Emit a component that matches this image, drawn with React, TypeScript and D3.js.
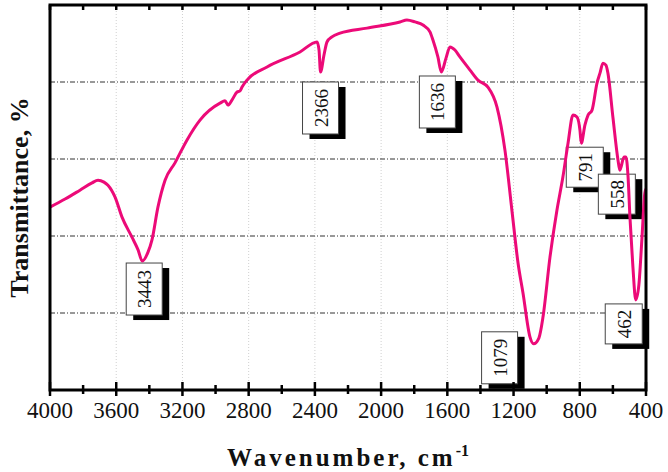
import React from 'react';
import * as d3 from 'd3';

// ---- data ----
const wavenumbers = [
  4000, 3909, 3819, 3746, 3710, 3674, 3650, 3607, 3565, 3505, 3468, 3443, 3408, 3384, 3348, 3305,
  3245, 3173, 3094, 2973, 2943, 2925, 2901, 2870, 2852, 2840, 2810, 2689, 2490, 2387, 2375, 2366,
  2345, 2327, 2297, 2248, 2085, 1886, 1844, 1795, 1747, 1705, 1687, 1657, 1636, 1608, 1584, 1554,
  1524, 1463, 1415, 1355, 1300, 1252, 1210, 1173, 1143, 1101, 1079, 1047, 1022, 980, 938, 902,
  871, 841, 817, 799, 791, 769, 750, 726, 696, 678, 660, 642, 630, 600, 569, 558,
  533, 521, 509, 497, 479, 462, 443, 425, 407, 400,
];
const transmittance = [
  47.5, 49.6, 51.9, 53.8, 54.5, 54.0, 53.2, 50.1, 44.9, 39.7, 36.4, 33.5, 35.8, 39.0, 47.5, 54.5,
  59.0, 64.9, 70.1, 74.5, 75.1, 74.0, 75.3, 77.4, 77.7, 78.7, 80.5, 83.9, 87.8, 90.4, 88.3, 82.6,
  87.0, 90.4, 91.7, 92.7, 94.0, 95.6, 96.1, 95.6, 94.8, 93.0, 90.9, 86.5, 82.6, 86.2, 89.1, 88.3,
  86.5, 83.1, 80.5, 78.7, 73.5, 62.3, 46.7, 33.0, 25.2, 13.8, 12.0, 13.5, 19.0, 34.5, 46.7, 55.3,
  64.1, 71.4, 70.9, 67.5, 64.1, 68.8, 71.4, 72.7, 79.7, 82.3, 84.9, 84.4, 82.3, 70.9, 59.7, 57.1,
  60.5, 60.5, 55.8, 44.9, 31.9, 23.4, 27.3, 39.0, 51.2, 52.2,
];
const xTickValues = [4000, 3600, 3200, 2800, 2400, 2000, 1600, 1200, 800, 400];
const xMinorTickValues = [3800, 3400, 3000, 2600, 2200, 1800, 1400, 1000, 600];
const gridLevels = [20, 40, 60, 80];
const peakLabels = ['3443', '2366', '1636', '1079', '791', '558', '462'];
const peakWavenumbers = [3443, 2366, 1636, 1079, 791, 558, 462];

// ---- layout ----
const W = 668;
const H = 472;
const M = { left: 50, right: 646, top: 5, bottom: 390 };
// box centre offset from the peak (dx) and box top offset from the peak (dy)
const labelOffsets = [
  [2, 2], [0, 10], [-4, 4], [-34, -12], [3.5, 4], [-3, 4], [-12, 4],
];
const COLOR = '#EC0A78';

export default function App() {
  const x = d3.scaleLinear().domain([4000, 400]).range([M.left, M.right]);
  const y = d3.scaleLinear().domain([0, 100]).range([M.bottom, M.top]);
  const pts: [number, number][] = wavenumbers.map((w, i) => [x(w), y(transmittance[i])]);
  const line = d3.line<[number, number]>().x(d => d[0]).y(d => d[1]).curve(d3.curveMonotoneX);
  const path = line(pts) || '';

  const peakY = (w: number) => {
    const i = wavenumbers.indexOf(w);
    return y(transmittance[i]);
  };

  return (
    <svg width={W} height={H} style={{ position: 'absolute', left: 0, top: 0, background: '#fff' }}>
      <rect x={0} y={0} width={W} height={H} fill="#fff" />
      {/* vertical faint grid */}
      {xTickValues.slice(1, -1).map(t => (
        <line key={'vg' + t} x1={x(t)} x2={x(t)} y1={M.top} y2={M.bottom}
          stroke="#d0d0d0" strokeWidth={1} strokeDasharray="1,2" />
      ))}
      {/* horizontal dash-dot grid */}
      {gridLevels.map(g => (
        <line key={'hg' + g} x1={M.left} x2={M.right} y1={y(g)} y2={y(g)}
          stroke="#333" strokeWidth={1} strokeDasharray="5,2,1,2" />
      ))}

      {/* peak labels */}
      {peakLabels.map((lab, i) => {
        const px = x(peakWavenumbers[i]);
        const py = peakY(peakWavenumbers[i]);
        const bw = lab.length === 4 ? 36 : 37;
        const bh = lab.length === 4 ? 52 : 40;
        const cx = px + labelOffsets[i][0];
        const top = py + labelOffsets[i][1];
        const bx = cx - bw / 2;
        return (
          <g key={'lab' + lab}>
            <rect x={bx + 7} y={top + 5} width={bw} height={bh} fill="#000" />
            <rect x={bx} y={top} width={bw} height={bh} fill="#fff" stroke="#444" strokeWidth={1} />
            <text transform={`translate(${cx + 7},${top + bh / 2}) rotate(-90)`}
              textAnchor="middle" fontFamily="'Liberation Serif', serif" fontSize={19} fill="#111">
              {lab}
            </text>
          </g>
        );
      })}

      {/* spectrum */}
      <path d={path} fill="none" stroke={COLOR} strokeWidth={3} strokeLinejoin="round" />

      {/* frame */}
      <rect x={M.left} y={M.top} width={M.right - M.left} height={M.bottom - M.top}
        fill="none" stroke="#000" strokeWidth={3} />
      {/* bottom ticks */}
      {xTickValues.map(t => (
        <line key={'bt' + t} x1={x(t)} x2={x(t)} y1={M.bottom - 8} y2={M.bottom + 6} stroke="#000" strokeWidth={2.5} />
      ))}
      {xMinorTickValues.map(t => (
        <line key={'bm' + t} x1={x(t)} x2={x(t)} y1={M.bottom - 5} y2={M.bottom + 4} stroke="#000" strokeWidth={2.5} />
      ))}
      {/* top ticks */}
      {[...xTickValues, ...xMinorTickValues].map(t => (
        <line key={'tt' + t} x1={x(t)} x2={x(t)} y1={M.top} y2={M.top + 5} stroke="#000" strokeWidth={2.5} />
      ))}
      {/* tick labels */}
      {xTickValues.map(t => (
        <text key={'tl' + t} x={x(t)} y={418} textAnchor="middle"
          fontFamily="'Liberation Serif', serif" fontSize={23} fill="#111">{t}</text>
      ))}
      {/* axis titles */}
      <text x={(M.left + M.right) / 2} y={466} textAnchor="middle"
        fontFamily="'Liberation Serif', serif" fontWeight="bold" fontSize={25} letterSpacing={3} fill="#111">
        Wavenumber, cm<tspan dy={-10} fontSize={16} letterSpacing={0}>-1</tspan>
      </text>
      <text transform={`translate(28,${(M.top + M.bottom) / 2}) rotate(-90)`} textAnchor="middle"
        fontFamily="'Liberation Serif', serif" fontWeight="bold" fontSize={26} fill="#111">
        Transmittance, %
      </text>
    </svg>
  );
}
